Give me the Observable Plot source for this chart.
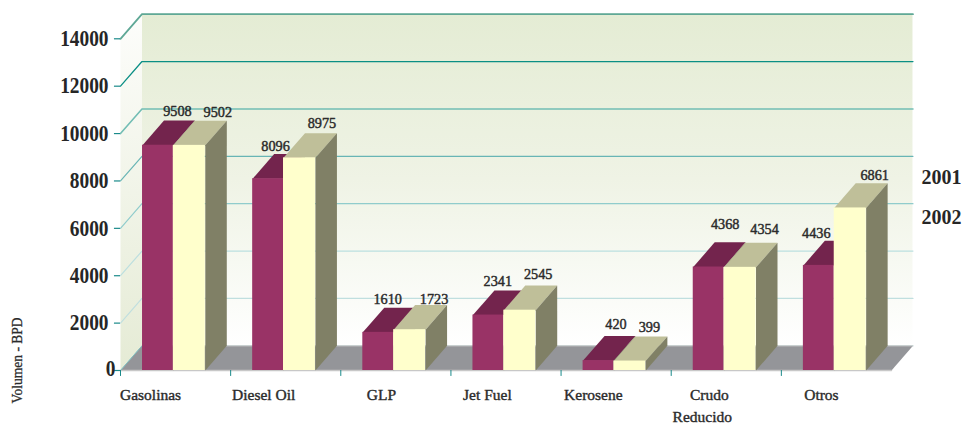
<!DOCTYPE html>
<html>
<head>
<meta charset="utf-8">
<style>html,body{margin:0;padding:0;background:#fff}</style>
<script src="https://cdn.jsdelivr.net/npm/d3@7"></script>
<script src="https://cdn.jsdelivr.net/npm/@observablehq/plot@0.6"></script>
</head>
<body>
<div id="chart"></div>
<script>
// ---- data ----
const categories = ["Gasolinas", "Diesel Oil", "GLP", "Jet Fuel", "Kerosene", "Crudo\nReducido", "Otros"];
const values2001 = [9508, 8096, 1610, 2341, 420, 4368, 4436];
const values2002 = [9502, 8975, 1723, 2545, 399, 4354, 6861];
const seriesNames = ["2001", "2002"];
const yTicks = [0, 2000, 4000, 6000, 8000, 10000, 12000, 14000];
const yTitle = "Volumen - BPD";

// ---- layout and style ----
const depthX = 0.195, depthY = 1040;            // 3D depth in scale units
const slots = [[0.2, 0.48], [0.48, 0.77]];      // bar span inside a category
const maxY = 14000;
const n = categories.length;
const font = "'Liberation Serif', serif";
const gridStroke = ["#b5dcdc", "#c0dfdf", "#bcdfdf", "#90cccc", "#68b5b5", "#72bdb4", "#0b8f85", "#5fa896"];
const gridWidth = [1, 1.2, 1.2, 1.2, 1.2, 1.6, 1.3, 1.8];
const nudge2001 = [[-2, -9], [-14, -8], [-12, -9], [-12, -9], [-4, -12], [-5, -18], [-24, -8]];
const nudge2002 = [[7, -9], [1, -10], [3, -6], [-3, -11], [-2, -9], [3, -14], [3, -8]];
const catNudge = [-25, -22, -14.5, -18.6, -22.8, -17, -15];
const catLineNudge = [0, -7];
const unit = 771 / n;                           // pixels per category

const bar = (vals, s) => vals.map((v, i) => ({i, v, x1: i + slots[s][0], x2: i + slots[s][1]}));
const topFace = b => [[b.x1, b.v], [b.x2, b.v], [b.x2 + depthX, b.v + depthY], [b.x1 + depthX, b.v + depthY]];
const sideFace = b => [[b.x2, 0], [b.x2, b.v], [b.x2 + depthX, b.v + depthY], [b.x2 + depthX, depthY]];
const poly = (bars, face) => bars.flatMap(b => face(b).map(([x, y]) => ({x, y, z: b.i})));
const xy = {x: d => d[0], y: d => d[1]};

const barMarks = (vals, s, front, top, side) => {
  const bars = bar(vals, s);
  return [
    Plot.line(poly(bars, topFace), {x: "x", y: "y", z: "z", fill: top, stroke: "none"}),
    Plot.line(poly(bars, sideFace), {x: "x", y: "y", z: "z", fill: side, stroke: "none"}),
    Plot.rect(bars, {x1: "x1", x2: "x2", y1: 0, y2: "v", fill: front, inset: 0})
  ];
};

const valueLabels = (vals, s, nudges) => bar(vals, s).map(b =>
  Plot.text([b], {
    x: d => (d.x1 + d.x2) / 2 + depthX,
    y: d => d.v + depthY,
    text: d => String(d.v),
    dx: nudges[b.i][0], dy: nudges[b.i][1],
    fontSize: 15, fill: "#2b2b2b", stroke: "#2b2b2b", strokeWidth: 0.45, fontFamily: font,
    className: "sq-val"
  }));

const catLines = categories.flatMap((c, i) => c.split("\n").map((text, line) => ({text, i, line})));

const defs = () => {
  const d = d3.create("svg:defs");
  const grad = (id, stops) => {
    const g = d.append("linearGradient").attr("id", id).attr("x1", 0).attr("y1", 0).attr("x2", 0).attr("y2", 1);
    stops.forEach(([o, c]) => g.append("stop").attr("offset", o).attr("stop-color", c));
  };
  grad("backWall", [[0, "#e4ecd4"], [0.5, "#eff3e5"], [1, "#ffffff"]]);
  grad("sideWall", [[0, "#fdfdfb"], [1, "#e5ebd5"]]);
  return d.node();
};

const axisText = {fontSize: 22.5, fontWeight: "bold", fill: "#262626", fontFamily: font, className: "sq-axis"};

const chart = Plot.plot({
  width: 963,
  height: 425,
  marginLeft: 120,
  marginRight: 72,
  marginTop: 38.3,
  marginBottom: 55,
  style: {fontFamily: font, background: "#fff"},
  x: {domain: [0, n], axis: null},
  y: {domain: [0, maxY], axis: null},
  marks: [
    defs,
    // walls and floor
    Plot.rect([0], {x1: depthX, x2: n + depthX, y1: depthY, y2: maxY + depthY, fill: "url(#backWall)"}),
    Plot.line([[0, 0], [depthX, depthY], [depthX, maxY + depthY], [0, maxY]], {...xy, fill: "url(#sideWall)", stroke: "none"}),
    // gridlines on side and back walls
    ...yTicks.map((v, i) => Plot.line(
      [[0, v], [depthX, v + depthY], [n + depthX, v + depthY]],
      {...xy, stroke: gridStroke[i], strokeWidth: gridWidth[i]})),
    Plot.line([[0, 0], [depthX, depthY], [n + depthX, depthY], [n, 0]], {...xy, fill: "#949599", stroke: "none"}),
    Plot.line([[depthX, depthY], [n + depthX, depthY]], {...xy, stroke: "#cfcfcf", strokeWidth: 1}),
    Plot.line([[0, 0], [n, 0]], {...xy, stroke: "#c8c8c8", strokeWidth: 1.4}),
    Plot.line([[0, 0], [depthX, depthY]], {...xy, stroke: "#7fbdbd", strokeWidth: 1}),
    // bars
    ...barMarks(values2001, 0, "#993366", "#73244d", "#808066"),
    ...barMarks(values2002, 1, "#ffffcc", "#bfbf99", "#808066"),
    ...valueLabels(values2001, 0, nudge2001),
    ...valueLabels(values2002, 1, nudge2002),
    // axes
    Plot.ruleX(d3.range(n), {x: d => d, y1: 0, y2: -250, stroke: "#1a8a8a", strokeWidth: 1}),
    Plot.ruleY(yTicks, {y: d => d, x1: -0.055, x2: 0, stroke: "#1a8a8a", strokeWidth: 1.2}),
    Plot.text(yTicks.filter(d => d > 0), {x: 0, y: d => d, text: d => String(d), textAnchor: "end", dx: -12, ...axisText}),
    Plot.text(yTicks.filter(d => d === 0), {x: 0, y: d => d, text: d => String(d), textAnchor: "end", dx: -5, dy: -2, ...axisText}),
    Plot.text(catLines, {
      x: d => d.i + 0.5 + (catNudge[d.i] + catLineNudge[d.line]) / unit,
      y: d => -(d.line * 22) / 0.02369, text: "text",
      dy: 25, fontSize: 15.5, fill: "#2b2b2b", stroke: "#2b2b2b", strokeWidth: 0.4, fontFamily: font, className: "sq-cat"
    }),
    Plot.text([yTitle], {x: 0, y: 0, text: d => d, rotate: -90, dx: -103, dy: -10, fontSize: 15, fill: "#2b2b2b", stroke: "#2b2b2b", strokeWidth: 0.3, fontFamily: font, className: "sq-title"}),
    // series names
    Plot.text(seriesNames, {
      x: n, y: (d, i) => i === 0 ? 8160 : 6470, text: d => d,
      dx: 50, textAnchor: "middle", fontSize: 20, fontWeight: "bold", fill: "#262626", fontFamily: font
    })
  ]
});
document.getElementById("chart").append(chart);

// condense the serif face to the narrow proportions of the original type
const squeeze = {"sq-axis": 0.86, "sq-val": 0.95, "sq-cat": 1, "sq-title": 0.9};
Object.entries(squeeze).forEach(([cls, k]) => {
  chart.querySelectorAll(`.${cls} text`).forEach(t => {
    t.setAttribute("textLength", t.getComputedTextLength() * k);
    t.setAttribute("lengthAdjust", "spacingAndGlyphs");
  });
});
</script>
</body>
</html>
